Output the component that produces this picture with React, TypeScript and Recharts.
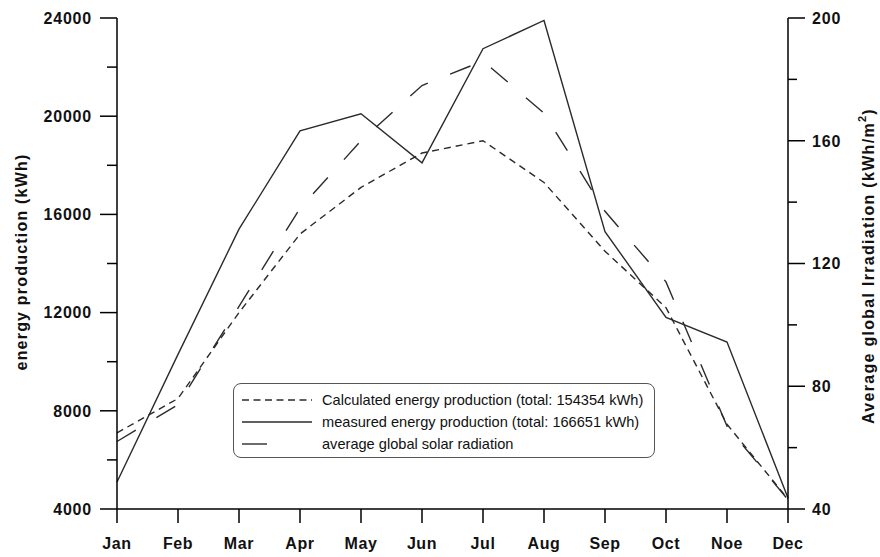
import { LineChart, Line, XAxis, YAxis, Legend } from 'recharts';

// monthly values, read month by month
const months = ['Jan', 'Feb', 'Mar', 'Apr', 'May', 'Jun', 'Jul', 'Aug', 'Sep', 'Oct', 'Noe', 'Dec'];
const calculated = [7100, 8500, 12000, 15200, 17100, 18500, 19000, 17300, 14500, 12200, 7450, 4400];
const measured = [5100, 10300, 15400, 19400, 20100, 18100, 22750, 23900, 15300, 11800, 10800, 4450];
const radiation = [62, 74, 106, 138, 160, 178, 186, 169, 137, 114, 67, 43];

const energyTicks = [4000, 6000, 8000, 10000, 12000, 14000, 16000, 18000, 20000, 22000, 24000];
const radiationTicks = [40, 60, 80, 100, 120, 140, 160, 180, 200];

const data = months.map((m, i) => ({
  month: m,
  calculated: calculated[i],
  measured: measured[i],
  radiation: radiation[i],
}));

const FONT = '"Liberation Sans", Arial, Helvetica, sans-serif';
const INK = '#2b2b2b';
const SHORT_DASH = '7 5';
const LONG_DASH = '22 24';

function LeftTick({ x, y, payload }: any) {
  const major = payload.value % 4000 === 0;
  return (
    <g>
      <line x1={x} x2={x - (major ? 17 : 10)} y1={y} y2={y} stroke="#000" strokeWidth={1.5} />
      {major && (
        <text x={x - 25} y={y} dy="0.36em" textAnchor="end" fontFamily={FONT} fontWeight="bold" fontSize={16} letterSpacing={0.8} fill="#111">
          {payload.value}
        </text>
      )}
    </g>
  );
}

function RightTick({ x, y, payload }: any) {
  const major = payload.value % 40 === 0;
  return (
    <g>
      <line x1={x} x2={x + (major ? 17 : 9)} y1={y} y2={y} stroke="#000" strokeWidth={1.5} />
      {major && (
        <text x={x + 24} y={y} dy="0.36em" textAnchor="start" fontFamily={FONT} fontWeight="bold" fontSize={16} letterSpacing={0.8} fill="#111">
          {payload.value}
        </text>
      )}
    </g>
  );
}

function MonthTick({ x, y, payload }: any) {
  return (
    <g>
      <line x1={x} x2={x} y1={y} y2={y + 14} stroke="#000" strokeWidth={1.5} />
      <text x={x} y={y + 34} dy="0.36em" textAnchor="middle" fontFamily={FONT} fontWeight="bold" fontSize={16} letterSpacing={0.6} fill="#111">
        {payload.value}
      </text>
    </g>
  );
}

const legendRows = [
  { label: 'Calculated energy production (total: 154354 kWh)', dash: '7 4.5' },
  { label: 'measured energy production (total: 166651 kWh)', dash: undefined },
  { label: 'average global solar radiation', dash: '25 45' },
];

function LegendBox() {
  return (
    <div
      style={{
        boxSizing: 'border-box',
        width: 422,
        height: 75,
        border: '1.5px solid #555',
        borderRadius: 8,
        padding: '5px 0 0 8px',
        background: '#fff',
      }}
    >
      {legendRows.map(r => (
        <div key={r.label} style={{ display: 'flex', alignItems: 'center', height: 22 }}>
          <svg width={72} height={10} style={{ marginRight: 8 }}>
            <line x1={0} x2={70} y1={5} y2={5} stroke={INK} strokeWidth={1.4} strokeDasharray={r.dash} />
          </svg>
          <span style={{ fontFamily: FONT, fontSize: 14.6, color: '#111', whiteSpace: 'nowrap' }}>{r.label}</span>
        </div>
      ))}
    </div>
  );
}

export default function App() {
  return (
    <div style={{ position: 'absolute', left: 0, top: 0, background: '#fff' }}>
      <LineChart width={880} height={557} data={data} margin={{ top: 18, right: 0, bottom: 0, left: 0 }}>
        <XAxis
          dataKey="month"
          axisLine={{ stroke: '#000', strokeWidth: 1.5 }}
          tickLine={false}
          tickSize={0}
          tickMargin={0}
          interval={0}
          tick={<MonthTick />}
          height={48}
        />
        <YAxis
          yAxisId="left"
          domain={[4000, 24000]}
          ticks={energyTicks}
          interval={0}
          width={117}
          axisLine={{ stroke: '#000', strokeWidth: 1.5 }}
          tickLine={false}
          tickSize={0}
          tickMargin={0}
          tick={<LeftTick />}
          label={{
            content: () => (
              <text x={21} y={262} transform="rotate(-90 21 262)" textAnchor="middle" dominantBaseline="central" fontFamily={FONT} fontWeight="bold" fontSize={16} letterSpacing={1.2} fill="#111">
                energy production (kWh)
              </text>
            ),
          }}
        />
        <YAxis
          yAxisId="right"
          orientation="right"
          domain={[40, 200]}
          ticks={radiationTicks}
          interval={0}
          width={92}
          axisLine={{ stroke: '#000', strokeWidth: 1.5 }}
          tickLine={false}
          tickSize={0}
          tickMargin={0}
          tick={<RightTick />}
          label={{
            content: () => (
              <text x={868} y={266} transform="rotate(-90 868 266)" textAnchor="middle" dominantBaseline="central" fontFamily={FONT} fontWeight="bold" fontSize={16} letterSpacing={1.3} fill="#111">
                Average global Irradiation (kWh/m
                <tspan dy={-6} fontSize={11}>2</tspan>
                <tspan dy={6}>)</tspan>
              </text>
            ),
          }}
        />
        <Legend
          layout="horizontal"
          verticalAlign="middle"
          align="center"
          content={<LegendBox />}
          wrapperStyle={{ left: 233, top: 383, width: 422, height: 75 }}
        />
        <Line yAxisId="left" dataKey="calculated" type="linear" stroke={INK} strokeWidth={1.4} strokeDasharray={SHORT_DASH} dot={false} isAnimationActive={false} />
        <Line yAxisId="left" dataKey="measured" type="linear" stroke={INK} strokeWidth={1.4} dot={false} isAnimationActive={false} />
        <Line yAxisId="right" dataKey="radiation" type="linear" stroke={INK} strokeWidth={1.4} strokeDasharray={LONG_DASH} dot={false} isAnimationActive={false} />
      </LineChart>
    </div>
  );
}
